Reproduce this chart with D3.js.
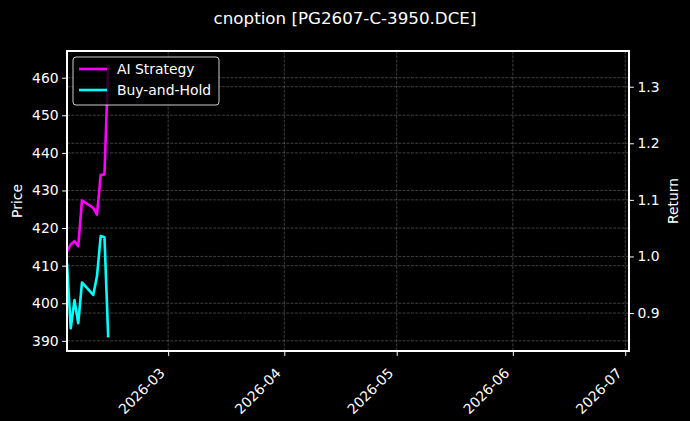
<!DOCTYPE html>
<html>
<head>
<meta charset="utf-8">
<script src="https://cdn.jsdelivr.net/npm/d3@7"></script>
<style>
    body { margin: 0; background: #000; }
    svg { display: block; font-family: "DejaVu Sans", sans-serif; }
</style>
</head>
<body>
<svg id="chart"></svg>
<script>
// data
const dates = ["2026-02-02", "2026-02-03", "2026-02-04", "2026-02-05", "2026-02-06",
    "2026-02-09", "2026-02-10", "2026-02-11", "2026-02-12", "2026-02-13"];
const aiStrategy = [1.009, 1.021, 1.027, 1.018, 1.099, 1.086, 1.074, 1.144, 1.145, 1.339];
const buyHold = [0.988, 0.873, 0.923, 0.882, 0.954, 0.932, 0.965, 1.036, 1.034, 0.857];
const dateRange = ["2026-02-02", "2026-07-02"];
const priceRange = [387.3, 467.1];
const priceTicks = [390, 400, 410, 420, 430, 440, 450, 460];
const returnTicks = [0.9, 1.0, 1.1, 1.2, 1.3];
const seriesNames = ["AI Strategy", "Buy-and-Hold"];
const seriesColors = ["#ff00ff", "#00ffff"];

const W = 690, H = 421;
const margin = { top: 51, right: 61, bottom: 70, left: 67 };
const width = W - margin.left - margin.right;
const height = H - margin.top - margin.bottom;

const parse = d3.timeParse("%Y-%m-%d");

const root = d3.select("#chart")
    .attr("width", W)
    .attr("height", H);

root.append("rect").attr("width", W).attr("height", H).attr("fill", "#000");

const svg = root.append("g")
    .attr("transform", `translate(${margin.left}, ${margin.top})`);

const x = d3.scaleTime()
    .domain(dateRange.map(parse))
    .range([0, width]);

const yPrice = d3.scaleLinear()
    .domain(priceRange)
    .range([height, 0]);

// return axis autoscaled with 5% padding like matplotlib
const allRet = aiStrategy.concat(buyHold);
const rMin = d3.min(allRet), rMax = d3.max(allRet);
const pad = (rMax - rMin) * 0.05;
const yRet = d3.scaleLinear()
    .domain([rMin - pad, rMax + pad])
    .range([height, 0]);

const monthTicks = d3.timeMonth.range(parse("2026-03-01"), parse("2026-07-02"));

// grid
const grid = svg.append("g")
    .attr("stroke", "#fff")
    .attr("stroke-opacity", 0.3)
    .attr("stroke-width", 0.8)
    .attr("stroke-dasharray", "3,1.3");

grid.selectAll(".vg").data(monthTicks).enter().append("line")
    .attr("x1", d => x(d)).attr("x2", d => x(d))
    .attr("y1", 0).attr("y2", height);
grid.selectAll(".hg").data(priceTicks).enter().append("line")
    .attr("x1", 0).attr("x2", width)
    .attr("y1", d => yPrice(d)).attr("y2", d => yPrice(d));
grid.selectAll(".rg").data(returnTicks).enter().append("line")
    .attr("x1", 0).attr("x2", width)
    .attr("y1", d => yRet(d)).attr("y2", d => yRet(d));

// lines
const series = [aiStrategy, buyHold];
const line = d3.line()
    .x((d, i) => x(parse(dates[i])))
    .y(d => yRet(d));

svg.append("defs").append("clipPath").attr("id", "clip")
    .append("rect").attr("width", width).attr("height", height);

series.forEach(function (vals, k) {
    svg.append("path")
        .datum(vals)
        .attr("clip-path", "url(#clip)")
        .attr("fill", "none")
        .attr("stroke", seriesColors[k])
        .attr("stroke-width", 2.6)
        .attr("stroke-linejoin", "round")
        .attr("d", line);
});

// axes
function styleAxis(g) {
    g.select(".domain").remove();
    g.selectAll(".tick line").attr("stroke", "#fff").attr("stroke-width", 1);
    g.selectAll(".tick text")
        .attr("fill", "#fff")
        .style("font-size", "13.9px")
        .style("font-family", "DejaVu Sans");
}

svg.append("g")
    .call(d3.axisLeft(yPrice).tickValues(priceTicks).tickSize(4.9).tickPadding(3.5))
    .call(styleAxis);

svg.append("g")
    .attr("transform", `translate(${width}, 0)`)
    .call(d3.axisRight(yRet).tickValues(returnTicks).tickSize(4.9).tickPadding(3.5)
        .tickFormat(d3.format(".1f")))
    .call(styleAxis);

const xAxis = svg.append("g")
    .attr("transform", `translate(0, ${height})`)
    .call(d3.axisBottom(x).tickValues(monthTicks).tickSize(4.9)
        .tickFormat(d3.timeFormat("%Y-%m")))
    .call(styleAxis);

xAxis.selectAll(".tick text")
    .attr("text-anchor", "end")
    .attr("dy", null)
    .attr("y", null)
    .attr("transform", "translate(-3, 23) rotate(-45)");

// spines
svg.append("rect")
    .attr("width", width)
    .attr("height", height)
    .attr("fill", "none")
    .attr("stroke", "#fff")
    .attr("stroke-width", 1.2)
    .attr("shape-rendering", "crispEdges");

// labels
root.append("text")
    .attr("x", W / 2)
    .attr("y", 24)
    .attr("text-anchor", "middle")
    .attr("fill", "#fff")
    .style("font-size", "16.7px")
    .text("cnoption [PG2607-C-3950.DCE]");

root.append("text")
    .attr("transform", `translate(22, ${margin.top + height / 2}) rotate(-90)`)
    .attr("text-anchor", "middle")
    .attr("fill", "#fff")
    .style("font-size", "13.9px")
    .text("Price");

root.append("text")
    .attr("transform", `translate(678, ${margin.top + height / 2}) rotate(-90)`)
    .attr("text-anchor", "middle")
    .attr("fill", "#fff")
    .style("font-size", "13.9px")
    .text("Return");

// legend
const legend = svg.append("g").attr("transform", "translate(6, 6)");
legend.append("rect")
    .attr("width", 146)
    .attr("height", 48)
    .attr("rx", 3)
    .attr("fill", "#000")
    .attr("fill-opacity", 0.8)
    .attr("stroke", "#fff")
    .attr("stroke-opacity", 0.8)
    .attr("stroke-width", 1);

seriesNames.forEach(function (name, i) {
    const yy = 12 + i * 21;
    legend.append("line")
        .attr("x1", 6).attr("x2", 34)
        .attr("y1", yy).attr("y2", yy)
        .attr("stroke", seriesColors[i])
        .attr("stroke-width", 2.6);
    legend.append("text")
        .attr("x", 44)
        .attr("y", yy + 5)
        .attr("fill", "#fff")
        .style("font-size", "13.9px")
        .text(name);
});
</script>
</body>
</html>
